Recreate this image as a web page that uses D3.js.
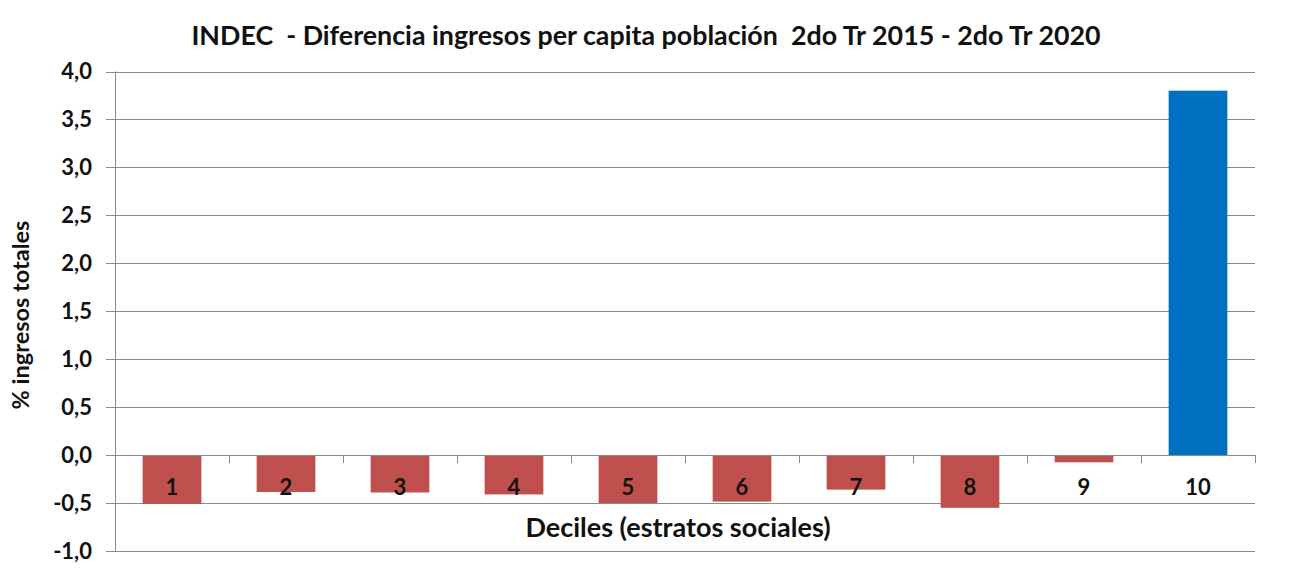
<!DOCTYPE html>
<html><head><meta charset="utf-8">
<script src="https://cdn.jsdelivr.net/npm/d3@7"></script>
<style>body{margin:0;background:#fff;}svg{display:block;font-family:Lato,"Open Sans",sans-serif;}text{white-space:pre;}</style>
</head><body>
<svg id="c" width="1293" height="568"></svg>
<script>
const categories = ["1","2","3","4","5","6","7","8","9","10"];
const values = [-0.51,-0.385,-0.39,-0.41,-0.50,-0.485,-0.36,-0.55,-0.075,3.80];
const yTicks = [-1.0,-0.5,0,0.5,1.0,1.5,2.0,2.5,3.0,3.5,4.0];
const title = "INDEC  - Diferencia ingresos per capita población  2do Tr 2015 - 2do Tr 2020";
const xTitle = "Deciles (estratos sociales)";
const yTitle = "% ingresos totales";

(function(){
const svg = d3.select("#c");
const pLeft = 115, pRight = 1255, pTop = 71.5, pBottom = 551;
const x = d3.scaleBand().domain(categories).range([pLeft, pRight]).paddingInner(0.485).paddingOuter(0.2425);
const y = d3.scaleLinear().domain([-1, 4]).range([pBottom, pTop]);
const fmt = v => d3.format(".1f")(v).replace(".", ",").replace("−","-");

svg.append("g").selectAll("line").data(yTicks).join("line")
  .attr("x1", pLeft - 9).attr("x2", pRight)
  .attr("y1", d => Math.round(y(d)) + 0.5).attr("y2", d => Math.round(y(d)) + 0.5)
  .attr("stroke", "#8a8a8a").attr("stroke-width", 1);

svg.append("line").attr("x1", pLeft + 0.5).attr("x2", pLeft + 0.5).attr("y1", pTop).attr("y2", pBottom)
  .attr("stroke", "#8a8a8a");

svg.append("g").selectAll("text").data(yTicks).join("text")
  .attr("x", 92).attr("y", d => y(d)).attr("dy", "0.35em")
  .attr("text-anchor", "end").attr("font-weight", "bold").attr("font-size", 22)
  .attr("fill", "#111").text(d => fmt(d));

svg.append("g").selectAll("rect").data(values).join("rect")
  .attr("x", (d, i) => x(categories[i]))
  .attr("width", x.bandwidth())
  .attr("y", d => y(Math.max(0, d)))
  .attr("height", d => Math.abs(y(d) - y(0)))
  .attr("fill", d => d < 0 ? "#C0504D" : "#0070C0");

svg.append("line").attr("x1", pLeft).attr("x2", pRight)
  .attr("y1", Math.round(y(0)) + 0.5).attr("y2", Math.round(y(0)) + 0.5).attr("stroke", "#8a8a8a");
const step = x.step();
svg.append("g").selectAll("line").data(d3.range(categories.length + 1)).join("line")
  .attr("x1", i => Math.round(pLeft + i * step) + 0.5).attr("x2", i => Math.round(pLeft + i * step) + 0.5)
  .attr("y1", y(0)).attr("y2", y(0) + 8).attr("stroke", "#8a8a8a");

svg.append("g").selectAll("text").data(categories).join("text")
  .attr("x", d => x(d) + x.bandwidth() / 2).attr("y", y(0) + 40)
  .attr("text-anchor", "middle").attr("font-weight", "bold").attr("font-size", 22)
  .attr("fill", "#111").text(d => d);

svg.append("text").attr("x", 646).attr("y", 45).attr("text-anchor", "middle")
  .attr("font-weight", "bold").attr("font-size", 26.8).attr("fill", "#111").text(title);
svg.append("text").attr("x", 678).attr("y", 537).attr("text-anchor", "middle")
  .attr("font-weight", "bold").attr("font-size", 27).attr("fill", "#111").text(xTitle);
svg.append("text").attr("transform", "translate(29,315) rotate(-90)").attr("text-anchor", "middle")
  .attr("font-weight", "bold").attr("font-size", 23.5).attr("fill", "#111").text(yTitle);
})();
</script>
</body></html>
